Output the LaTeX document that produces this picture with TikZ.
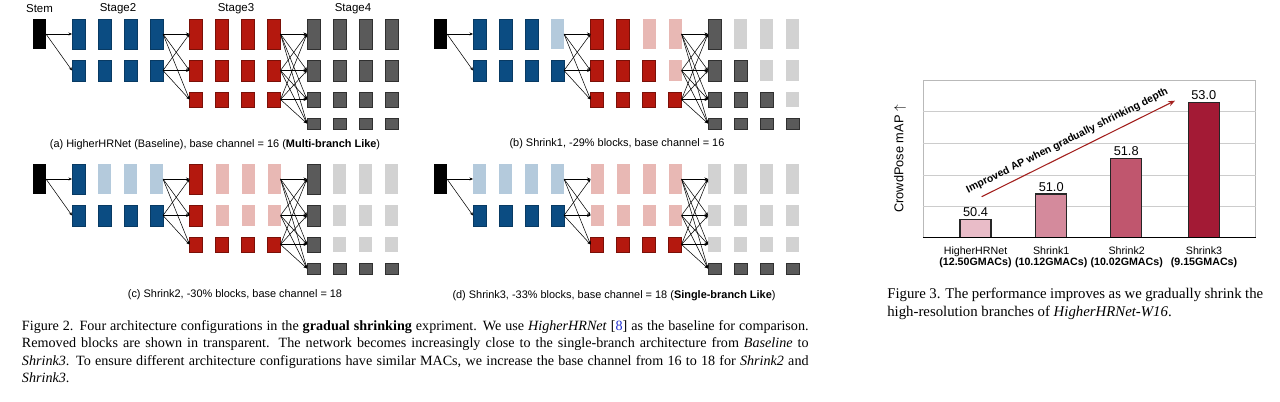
\documentclass[tikz,border=0pt]{standalone}
\usepackage{fontspec}
\setmainfont{Liberation Serif}
\setsansfont{Liberation Sans}
\usetikzlibrary{arrows.meta}
\hyphenpenalty=10000
% block colours, one set per stage
\definecolor{s2on}{HTML}{0B4C82}
\definecolor{s2off}{HTML}{B4CADC}
\definecolor{s2edge}{HTML}{083A63}
\definecolor{s3on}{HTML}{B4180E}
\definecolor{s3off}{HTML}{E8B8B4}
\definecolor{s3edge}{HTML}{7A1008}
\definecolor{s4on}{HTML}{5A5A5A}
\definecolor{s4off}{HTML}{D2D2D2}
\definecolor{s4edge}{HTML}{303030}
% bar colours
\definecolor{bar1}{HTML}{E9BCC8}
\definecolor{bar2}{HTML}{D48A9C}
\definecolor{bar3}{HTML}{C0566E}
\definecolor{bar4}{HTML}{A31A35}
\definecolor{trend}{HTML}{A3201E}
\definecolor{citeblue}{HTML}{1F2FD0}
\begin{document}
\begin{tikzpicture}[x=0.75pt,y=-0.75pt,
  blk/.style={rectangle,inner sep=0pt,outer sep=0pt,minimum width=9.75pt,line width=0.6pt},
  lnk/.style={-{Stealth[length=2.6pt,width=2.2pt]},line width=0.4pt},
  lab/.style={font=\sffamily\fontsize{8.6}{10}\selectfont},
  sub/.style={font=\sffamily\fontsize{8.2}{10}\selectfont},
  cat/.style={font=\sffamily\fontsize{8}{8.3}\selectfont,align=center},
  val/.style={font=\sffamily\fontsize{9.6}{11}\selectfont,anchor=south,inner sep=1pt},
  figcap/.style={font=\fontsize{10.6}{13.2}\selectfont,align=justify,inner sep=0pt,anchor=base west}]
\path[fill=white,use as bounding box] (0,0) rectangle (1280,402);
% the four configurations: active blocks per row of stage 2, 3 and 4
\foreach \p/\dx/\dy/\ka/\kb/\kc/\kd/\ke/\kf/\kg/\kh/\ki in
  {a/0/0/4/4/4/4/4/4/4/4/4, b/401/0/3/4/2/3/4/1/2/3/4,
   c/0/145/1/4/1/1/4/1/1/1/4, d/401/145/0/4/0/0/4/0/0/0/4}{
  \begin{scope}[shift={(\dx,\dy)}]
  \node[blk,fill=black,minimum height=22.5pt] (\p-stem) at (39.5,34) {};
  \foreach \st/\rw/\k in {2/1/\ka,2/2/\kb,3/1/\kc,3/2/\kd,3/3/\ke,
                          4/1/\kf,4/2/\kg,4/3/\kh,4/4/\ki}{
    \pgfmathsetmacro\h{{22.5,15.75,11.25,8.25}[\rw-1]}
    \pgfmathsetmacro\yy{{34,70.5,99.5,123.5}[\rw-1]}
    \foreach \j in {1,...,4}{
      \ifnum\j>\k\relax\def\fc{s\st off}\def\dc{none}\else\def\fc{s\st on}\def\dc{s\st edge}\fi
      \node[blk,fill=\fc,draw=\dc,minimum height=\h pt] (\p-\st-\rw-\j)
        at ({78.5+(\st-2)*117.5+(\j-1)*26},\yy) {};
    }
  }
  % fusion links
  \draw[lnk] (\p-stem.east) -- (\p-2-1-1.west);
  \draw[lnk] (\p-stem.east) -- (\p-2-2-1.west);
  \foreach \a in {1,2} \foreach \b in {1,2,3}
    \draw[lnk] (\p-2-\a-4.east) -- (\p-3-\b-1.west);
  \foreach \a in {1,2,3} \foreach \b in {1,...,4}
    \draw[lnk] (\p-3-\a-4.east) -- (\p-4-\b-1.west);
  \end{scope}
}
\node[lab] (lab-stem) at (39.5,9) {Stem};
\node[lab] (lab-s2) at (118,9) {Stage2};
\node[lab] (lab-s3) at (236,9) {Stage3};
\node[lab] (lab-s4) at (353,9) {Stage4};
\node[sub] (cap-a) at (215,145) {(a) HigherHRNet (Baseline), base channel = 16 (\textbf{Multi-branch Like})};
\node[sub] (cap-b) at (617,144) {(b) Shrink1, -29\% blocks, base channel = 16};
\node[sub] (cap-c) at (235,295) {(c) Shrink2, -30\% blocks, base channel = 18};
\node[sub] (cap-d) at (614,295.5) {(d) Shrink3, -33\% blocks, base channel = 18 (\textbf{Single-branch Like})};
% performance chart
\draw[gray!55,line width=0.5pt] (923.3,80) rectangle (1255.7,237.3);
\foreach \g in {111.7,143.3,175,206.3}
  \draw[gray!40,line width=0.5pt] (923.3,\g) -- (1255.7,\g);
\foreach \i/\xl/\top/\v in {1/960/219.3/50.4,2/1035.7/194/51.0,3/1110.7/158.3/51.8,4/1188.3/102.7/53.0}{
  \draw[fill=bar\i,draw=black!85,line width=1.1pt] (\xl,237.3) rectangle ({\xl+31},\top);
  \node[val] (v\i) at ({\xl+15.5},{\top-1}) {\v};
}
\draw[black,line width=1.1pt] (923.3,237.3) -- (1255.7,237.3);
\node[cat] (cat1) at (975.5,257) {HigherHRNet\\\textbf{(12.50GMACs)}};
\node[cat] (cat2) at (1051.2,257) {Shrink1\\\textbf{(10.12GMACs)}};
\node[cat] (cat3) at (1126.7,257) {Shrink2\\\textbf{(10.02GMACs)}};
\node[cat] (cat4) at (1204,257) {Shrink3\\\textbf{(9.15GMACs)}};
\node[font=\sffamily\fontsize{9.6}{11}\selectfont,rotate=90] (ylab) at (900,159) {CrowdPose mAP $\uparrow$};
\coordinate (tr-s) at (981.7,196.7);
\coordinate (tr-e) at (1175,100.7);
\draw[trend,line width=0.8pt,-{Stealth[length=5pt,width=4pt]}] (tr-s) -- (tr-e)
  node[pos=0.47,sloped,above=1.5pt,text=black,font=\sffamily\bfseries\fontsize{7.8}{9}\selectfont] {Improved AP when gradually shrinking depth};
% captions
\node[figcap,text width=590pt] (fig2) at (21.7,330) {Figure 2. Four architecture configurations in the \textbf{gradual shrinking} expriment. We use \emph{HigherHRNet} [{\color{citeblue}8}] as the baseline for comparison.\linebreak Removed blocks are shown in transparent. The network becomes increasingly close to the single-branch architecture from \emph{Baseline} to\linebreak \emph{Shrink3}. To ensure different architecture configurations have similar MACs, we increase the base channel from 16 to 18 for \emph{Shrink2} and\linebreak \emph{Shrink3}.};
\node[figcap,text width=282pt,font=\fontsize{11.1}{13.2}\selectfont] (fig3) at (887,298.5) {Figure 3. The performance improves as we gradually shrink the\linebreak high-resolution branches of \emph{HigherHRNet-W16}.};
\end{tikzpicture}
\end{document}
